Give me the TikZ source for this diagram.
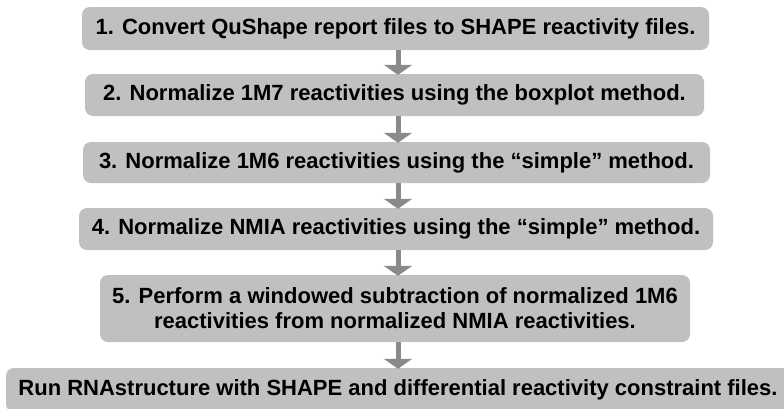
\documentclass[tikz,border=0pt]{standalone}
\usepackage{fontspec}
\setmainfont{Liberation Sans}[BoldFont={Liberation Sans Bold}]
\usetikzlibrary{arrows.meta}
\definecolor{boxfill}{HTML}{C0C0C2}
\definecolor{arrowgray}{HTML}{8A8A8A}
\tikzset{
  stepbox/.style={fill=boxfill, draw=none, rounded corners=8pt, inner sep=0pt,
    align=center, font=\fontsize{22pt}{25pt}\selectfont\bfseries, text=black},
  flowarrow/.style={draw=arrowgray, line width=5pt,
    -{Triangle[length=10pt,width=28pt]}, arrowgray}
}
\begin{document}
\begin{tikzpicture}[x=1pt,y=-1pt]
\clip (0,0) rectangle (784,408);
\fill[white] (0,0) rectangle (784,408);
\node[stepbox, minimum width=627pt, minimum height=43pt] (b1) at (395.5,28.5)
  {1. Convert QuShape report files to SHAPE reactivity files.};
\node[stepbox, minimum width=619pt, minimum height=42pt] (b2) at (394.5,95)
  {2. Normalize 1M7 reactivities using the boxplot method.};
\node[stepbox, minimum width=627pt, minimum height=41pt] (b3) at (396.5,162.5)
  {3. Normalize 1M6 reactivities using the \char"201Csimple\char"201D{} method.};
\node[stepbox, minimum width=634pt, minimum height=42pt] (b4) at (396,229)
  {4. Normalize NMIA reactivities using the \char"201Csimple\char"201D{} method.};
\node[stepbox, minimum width=590pt, minimum height=67pt] (b5) at (395,308.5)
  {5. Perform a windowed subtraction of normalized 1M6\\reactivities from normalized NMIA reactivities.};
\node[stepbox, minimum width=784pt, minimum height=44pt] (b6) at (398,390)
  {Run RNAstructure with SHAPE and differential reactivity constraint files.};
\coordinate (ax) at (398,0);
\draw[flowarrow] (b1.south -| ax) -- ([yshift=-1pt]b2.north -| ax);
\draw[flowarrow] (b2.south -| ax) -- ([yshift=-1pt]b3.north -| ax);
\draw[flowarrow] (b3.south -| ax) -- ([yshift=-1pt]b4.north -| ax);
\draw[flowarrow] (b4.south -| ax) -- ([yshift=-1pt]b5.north -| ax);
\draw[flowarrow] (b5.south -| ax) -- ([yshift=-1pt]b6.north -| ax);
\end{tikzpicture}
\end{document}
